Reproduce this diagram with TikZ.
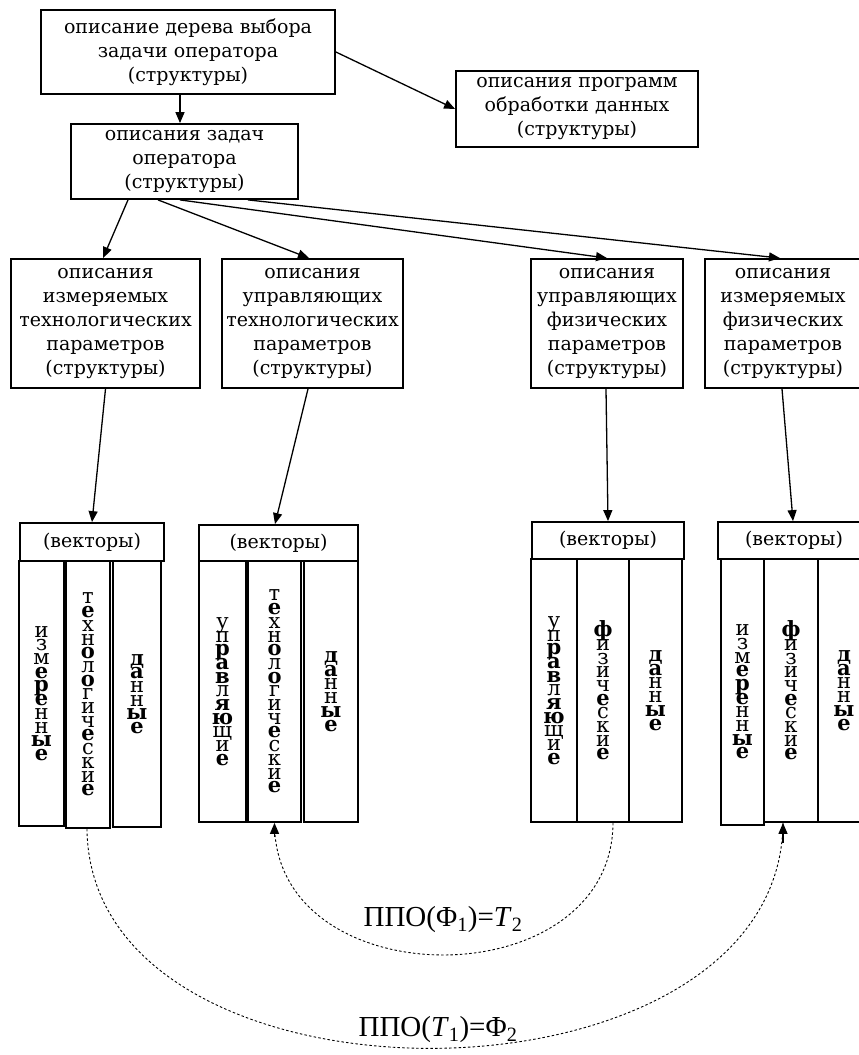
\documentclass[tikz,border=0pt]{standalone}
\usepackage{fontspec}
\setmainfont{DejaVu Serif}
\newfontfamily\labfont{Liberation Serif}
\usetikzlibrary{arrows.meta}
\newcommand{\Bd}[1]{\textbf{#1}}
\newcommand{\Lq}[1]{\hbox to 30pt{\hss#1\hss}}
\newcommand{\vstk}[1]{\vbox{\fontsize{21}{13.7}\selectfont\baselineskip=13.7pt\lineskiplimit=-30pt\lineskip=0pt #1}}
\newcommand{\vIzm}{\vstk{\Lq{и}\Lq{з}\Lq{м}\Lq{\Bd{е}}\Lq{\Bd{р}}\Lq{\Bd{е}}\Lq{н}\Lq{н}\Lq{\Bd{ы}}\Lq{\Bd{е}}}}
\newcommand{\vTeh}{\vstk{\Lq{т}\Lq{\Bd{е}}\Lq{х}\Lq{н}\Lq{\Bd{о}}\Lq{л}\Lq{\Bd{о}}\Lq{г}\Lq{и}\Lq{ч}\Lq{\Bd{е}}\Lq{с}\Lq{к}\Lq{и}\Lq{\Bd{е}}}}
\newcommand{\vDan}{\vstk{\Lq{\Bd{д}}\Lq{\Bd{а}}\Lq{н}\Lq{н}\Lq{\Bd{ы}}\Lq{\Bd{е}}}}
\newcommand{\vUpr}{\vstk{\Lq{у}\Lq{п}\Lq{\Bd{р}}\Lq{\Bd{а}}\Lq{\Bd{в}}\Lq{л}\Lq{\Bd{я}}\Lq{\Bd{ю}}\Lq{щ}\Lq{и}\Lq{\Bd{е}}}}
\newcommand{\vFiz}{\vstk{\Lq{\Bd{ф}}\Lq{и}\Lq{з}\Lq{и}\Lq{ч}\Lq{\Bd{е}}\Lq{с}\Lq{к}\Lq{и}\Lq{\Bd{е}}}}
\begin{document}
\begin{tikzpicture}[x=1pt,y=-1pt,
  box/.style={draw, line width=1.8pt, inner sep=0pt, align=center,
    font=\fontsize{19}{24}\selectfont},
  colbox/.style={draw, line width=1.8pt, inner sep=0pt},
  arr/.style={line width=1.3pt, -{Triangle[length=11pt,width=9pt]}},
  dots/.style={line width=0.9pt, dash pattern=on 2.5pt off 2.2pt},
  lab/.style={font=\labfont\fontsize{29}{32}\selectfont, inner sep=0pt}
]
\useasboundingbox (0,0) rectangle (859,1055);

% top boxes
\node[box, minimum width=294pt, minimum height=84pt] (b1) at (188,52)
  {описание дерева выбора\\задачи оператора\\(структуры)};
\node[box, minimum width=242pt, minimum height=76pt] (prog) at (577,109)
  {описания программ\\обработки данных\\(структуры)};
\node[box, minimum width=227pt, minimum height=75pt] (b2) at (184.5,161.5)
  {описания задач\\оператора\\(структуры)};

% middle row
\node[box, minimum width=189pt, minimum height=129pt] (rA) at (105.5,323.5)
  {описания\\измеряемых\\технологических\\параметров\\(структуры)};
\node[box, minimum width=181pt, minimum height=129pt] (rB) at (312.5,323.5)
  {описания\\управляющих\\технологических\\параметров\\(структуры)};
\node[box, minimum width=152pt, minimum height=129pt] (rC) at (607,323.5)
  {описания\\управляющих\\физических\\параметров\\(структуры)};
\node[box, minimum width=156pt, minimum height=129pt] (rD) at (783,323.5)
  {описания\\измеряемых\\физических\\параметров\\(структуры)};

% vector groups: columns
\node[colbox, minimum width=45pt, minimum height=265pt] (a1) at (41.5,693.5) {\vIzm};
\node[colbox, minimum width=44pt, minimum height=267pt] (a2) at (88,694.5) {\vTeh};
\node[colbox, minimum width=48pt, minimum height=266pt] (a3) at (137,694) {\vDan};

\node[colbox, minimum width=47pt, minimum height=261pt] (bb1) at (222.5,691.5) {\vUpr};
\node[colbox, minimum width=53pt, minimum height=261pt] (bb2) at (274.5,691.5) {\vTeh};
\node[colbox, minimum width=54pt, minimum height=261pt] (bb3) at (331,691.5) {\vDan};

\node[colbox, minimum width=46pt, minimum height=263pt] (c1) at (554,690.5) {\vUpr};
\node[colbox, minimum width=52pt, minimum height=263pt] (c2) at (603,690.5) {\vFiz};
\node[colbox, minimum width=53pt, minimum height=263pt] (c3) at (655.5,690.5) {\vDan};

\node[colbox, minimum width=43pt, minimum height=266pt] (d1) at (742.5,692) {\vIzm};
\node[colbox, minimum width=54pt, minimum height=263pt] (d2) at (791,690.5) {\vFiz};
\node[colbox, minimum width=52pt, minimum height=263pt] (d3) at (844,690.5) {\vDan};

% vector headers
\node[box, minimum width=144pt, minimum height=38pt] (vA) at (92,542) {(векторы)};
\node[box, minimum width=159pt, minimum height=36pt] (vB) at (278.5,543) {(векторы)};
\node[box, minimum width=152pt, minimum height=37pt] (vC) at (608,540.5) {(векторы)};
\node[box, minimum width=152pt, minimum height=37pt] (vD) at (794,540.5) {(векторы)};

% connectors top
\draw[arr] ([xshift=-8pt]b1.south) -- ([xshift=-4.5pt]b2.north);
\draw[arr] (b1.east) -- (prog.west);
\draw[arr] ([xshift=-56.5pt]b2.south) -- ([xshift=-2.5pt]rA.north);
\draw[arr] ([xshift=-26.5pt]b2.south) -- ([xshift=-3.5pt]rB.north);
\draw[arr] ([xshift=-4.5pt]b2.south) -- (rC.north);
\draw[arr] ([xshift=63.5pt]b2.south) -- ([xshift=-3pt]rD.north);

% to vectors
\draw[arr] (rA.south) -- (vA.north);
\draw[arr] ([xshift=-4.5pt]rB.south) -- ([xshift=-3.5pt]vB.north);
\draw[arr] ([xshift=-1pt]rC.south) -- (vC.north);
\draw[arr] ([xshift=-1pt]rD.south) -- ([xshift=-1pt]vD.north);

% dotted curves
\draw[dots] ([xshift=10pt]c2.south) .. controls (612,999) and (274,999) .. (bb2.south);
\draw[arr] ([yshift=-14pt]bb2.south) -- (bb2.south);
\draw[dots] ([xshift=-1pt]a2.south) .. controls (90,1125) and (780,1120) .. ([xshift=-8pt]d2.south);
\draw[arr] ([xshift=-8pt,yshift=-20pt]d2.south) -- ([xshift=-8pt]d2.south);

% labels
\node[lab] (l1) at (443,920) {ППО(Φ\textsubscript{1})=\textit{T}\textsubscript{2}};
\node[lab] (l2) at (438,1030) {ППО(\textit{T}\textsubscript{1})=Φ\textsubscript{2}};
\end{tikzpicture}
\end{document}
